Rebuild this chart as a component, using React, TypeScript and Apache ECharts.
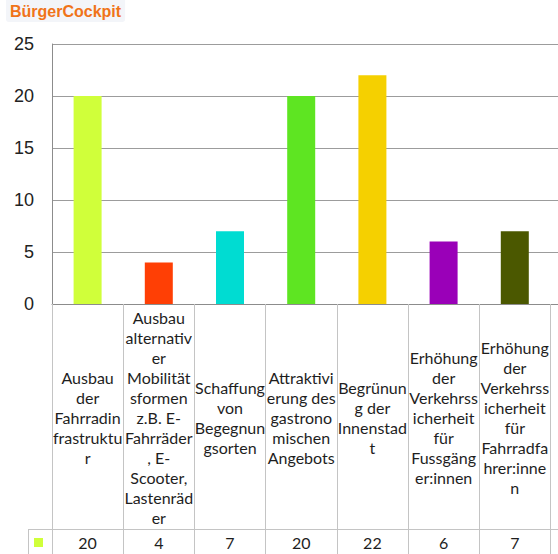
import React, { useEffect, useRef } from "react";
import * as echarts from "echarts";

// Survey categories, wrapped as they appear in the table cells
const categories: string[] = [
  "Ausbau\nder\nFahrradin\nfrastruktu\nr",
  "Ausbau\nalternativ\ner\nMobilität\nsformen\nz.B. E-\nFahrräder\n, E-\nScooter,\nLastenräd\ner",
  "Schaffung\nvon\nBegegnun\ngsorten",
  "Attraktivi\nerung des\ngastrono\nmischen\nAngebots",
  "Begrünun\ng der\nInnenstad\nt",
  "Erhöhung\nder\nVerkehrss\nicherheit\nfür\nFussgäng\ner:innen",
  "Erhöhung\nder\nVerkehrss\nicherheit\nfür\nFahrradfa\nhrer:inne\nn",
];

const values: number[] = [20, 4, 7, 20, 22, 6, 7];

const barColors: string[] = [
  "#d0ff3a",
  "#ff3f05",
  "#00dcd2",
  "#5ee522",
  "#f5d000",
  "#9a00b8",
  "#4b5800",
];

const yTicks = { min: 0, max: 25, interval: 5 };

const TITLE = "BürgerCockpit";
const TABLE_FONT = "Lato, 'Open Sans', sans-serif";
const AXIS_FONT = "'Liberation Sans', Arial, sans-serif";

export default function App() {
  const ref = useRef<HTMLDivElement>(null);

  useEffect(() => {
    if (!ref.current) return;
    const chart = echarts.init(ref.current, null, { renderer: "svg" });

    // The table keeps going past the right edge: one trailing empty slot
    const axisCats = [...categories, ""];
    const valueCells = [...values.map((v) => String(v)), ""];

    const option: any = {
      animation: false,
      backgroundColor: "#ffffff",
      title: {
        text: TITLE,
        left: 6,
        top: 0,
        padding: [3, 4, 3, 4],
        backgroundColor: "#f3f5f9",
        borderRadius: [0, 0, 3, 3],
        textStyle: {
          color: "#f07419",
          fontWeight: "bold",
          fontSize: 16,
          fontFamily: AXIS_FONT,
        },
      },
      legend: {
        left: 34,
        top: 538,
        padding: 0,
        itemWidth: 9,
        itemHeight: 9,
        icon: "rect",
        formatter: () => "",
        selectedMode: false,
        data: ["Anzahl"],
      },
      grid: {
        left: 52,
        top: 44,
        width: 71.2 * axisCats.length,
        height: 260,
        containLabel: false,
        outerBoundsMode: "none",
      },
      xAxis: [
        {
          type: "category",
          data: axisCats,
          position: "bottom",
          axisLine: { show: true, lineStyle: { color: "#8c8c8c", width: 1 } },
          axisTick: {
            show: true,
            length: 250,
            lineStyle: { color: "#c4c4c4", width: 1 },
          },
          axisLabel: {
            interval: 0,
            margin: 113,
            verticalAlign: "middle",
            align: "center",
            lineHeight: 20,
            fontSize: 16,
            color: "#1e1e1e",
            fontFamily: TABLE_FONT,
          },
        },
        {
          type: "category",
          data: valueCells,
          position: "bottom",
          offset: 225,
          axisLine: { show: false },
          axisTick: { show: false },
          axisLabel: {
            interval: 0,
            margin: 13,
            verticalAlign: "middle",
            align: "center",
            fontSize: 16,
            color: "#1e1e1e",
            fontFamily: TABLE_FONT,
          },
        },
      ],
      yAxis: {
        type: "value",
        min: yTicks.min,
        max: yTicks.max,
        interval: yTicks.interval,
        axisLine: { show: true, lineStyle: { color: "#8c8c8c", width: 1 } },
        axisTick: { show: false },
        splitLine: { show: true, lineStyle: { color: "#9c9c9c", width: 1 } },
        axisLabel: {
          margin: 18,
          fontSize: 18,
          color: "#222222",
          fontFamily: AXIS_FONT,
        },
      },
      graphic: [
        // value row of the data table: top rule and left border
        {
          type: "line",
          shape: { x1: 28, y1: 529.5, x2: 558, y2: 529.5 },
          style: { stroke: "#c4c4c4", lineWidth: 1 },
          silent: true,
        },
        {
          type: "line",
          shape: { x1: 28.5, y1: 529, x2: 28.5, y2: 554 },
          style: { stroke: "#c4c4c4", lineWidth: 1 },
          silent: true,
        },
      ],
      series: [
        {
          name: "Anzahl",
          type: "bar",
          xAxisIndex: 0,
          barWidth: 28,
          itemStyle: { color: barColors[0] },
          data: values.map((v, i) => ({
            value: v,
            itemStyle: { color: barColors[i] },
          })),
        },
      ],
    };

    chart.setOption(option);
    return () => chart.dispose();
  }, []);

  return (
    <div
      ref={ref}
      style={{
        position: "fixed",
        left: 0,
        top: 0,
        width: 558,
        height: 554,
        background: "#ffffff",
      }}
    />
  );
}
